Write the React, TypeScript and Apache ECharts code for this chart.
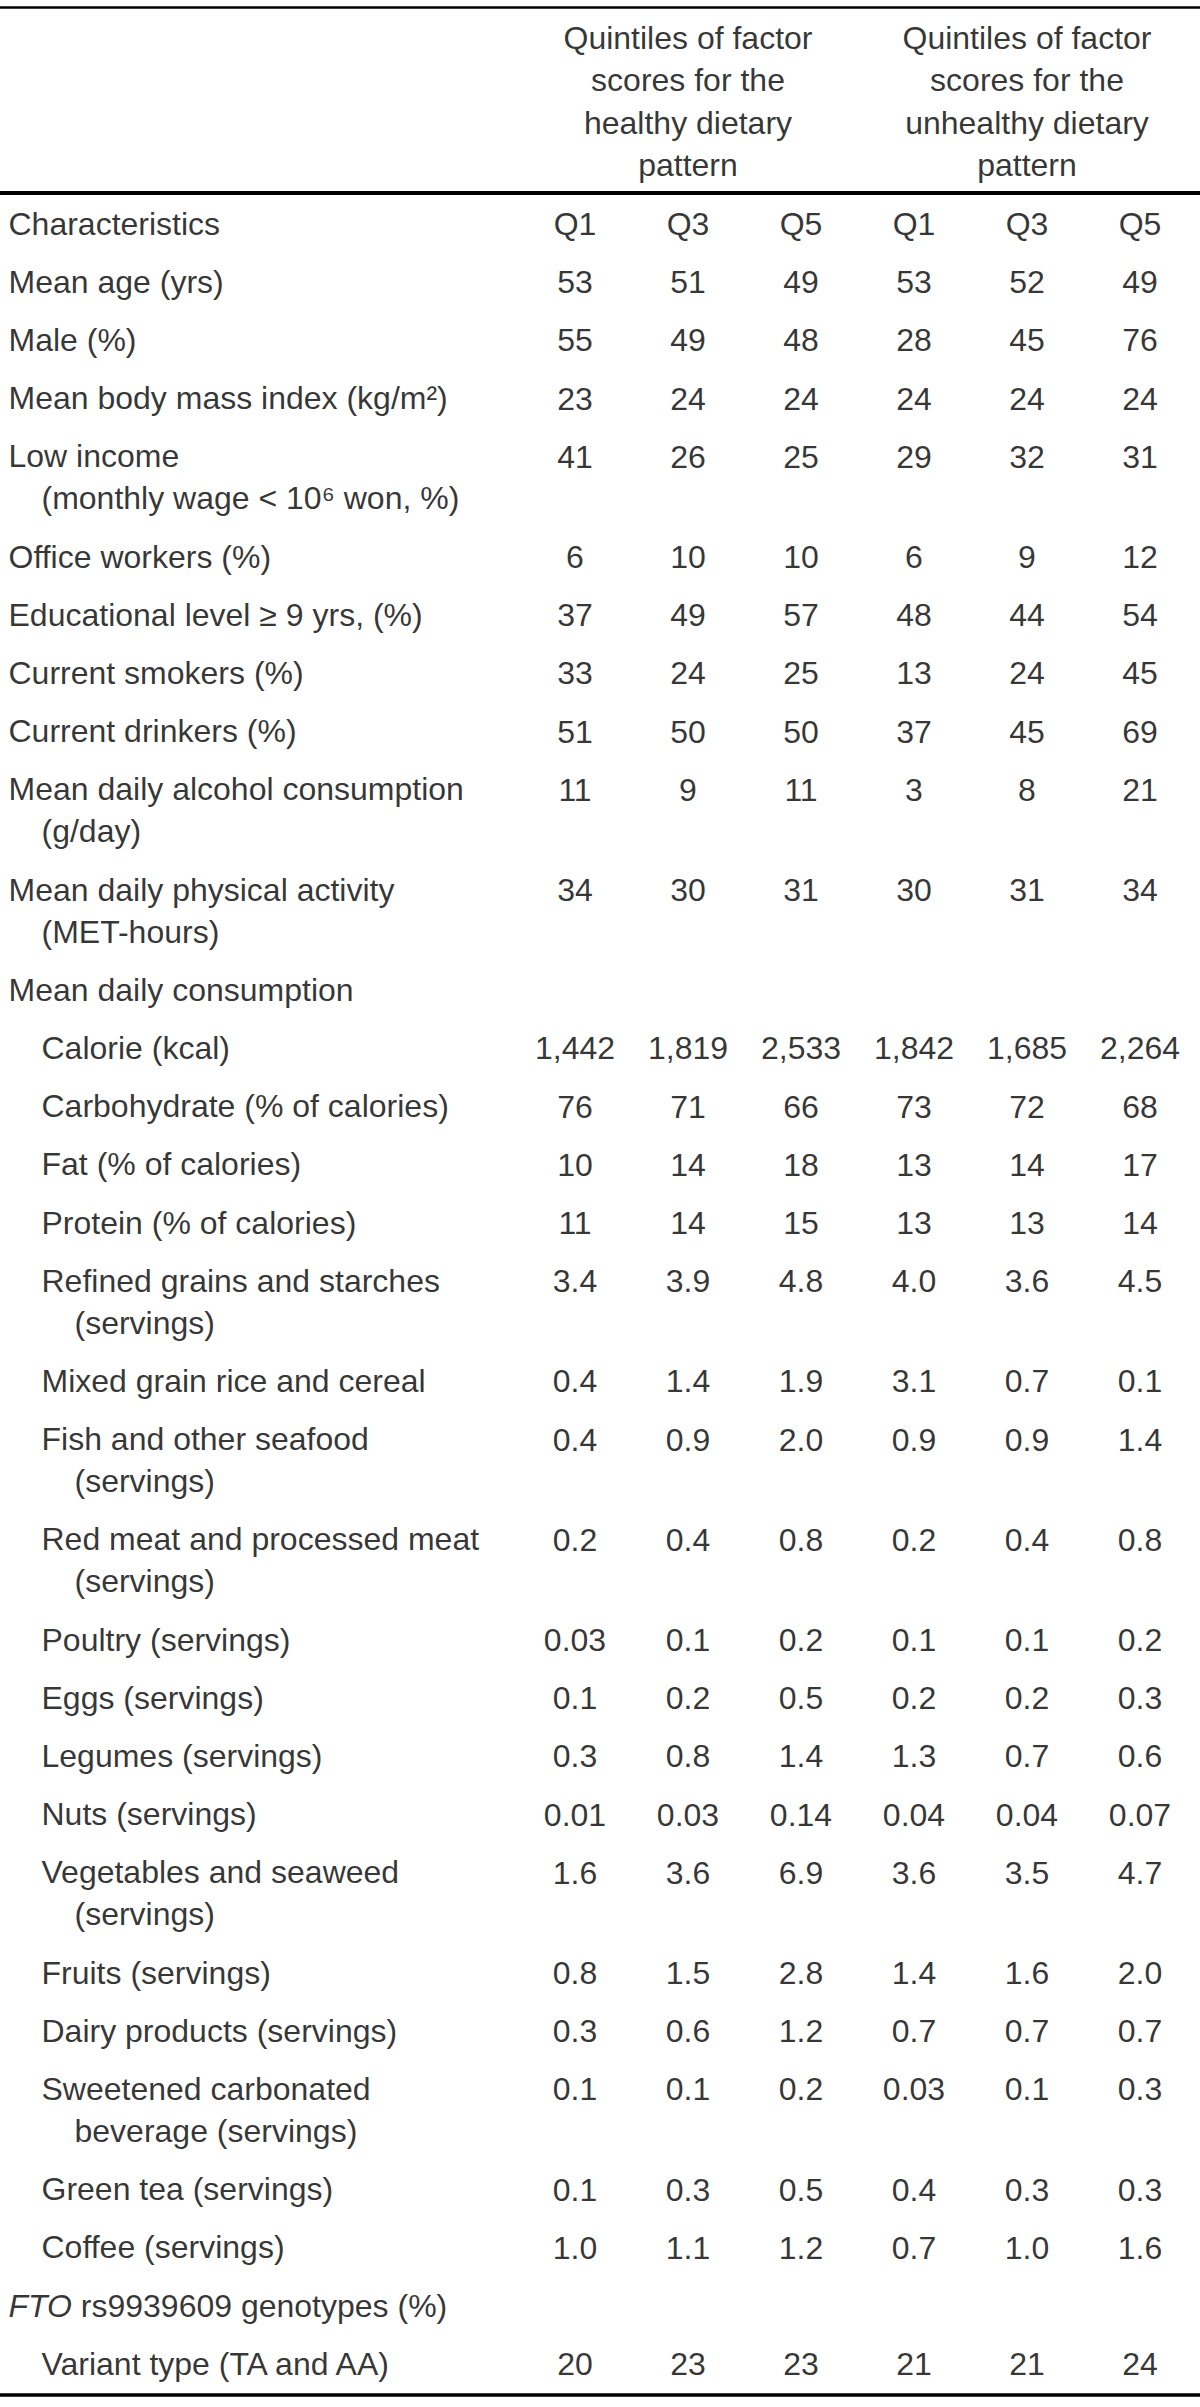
import React, { useEffect, useRef } from "react";
import * as echarts from "echarts";

// ---------- data ----------
const quintiles = ["Q1", "Q3", "Q5", "Q1", "Q3", "Q5"];
const patternHeaders = [
  "Quintiles of factor\nscores for the\nhealthy dietary\npattern",
  "Quintiles of factor\nscores for the\nunhealthy dietary\npattern",
];
const patternHeaderColumn = [1, 4];

const characteristics: string[][] = [
  ["Characteristics"],
  ["Mean age (yrs)"],
  ["Male (%)"],
  ["Mean body mass index (kg/m²)"],
  ["Low income", "(monthly wage < 10⁶ won, %)"],
  ["Office workers (%)"],
  ["Educational level ≥ 9 yrs, (%)"],
  ["Current smokers (%)"],
  ["Current drinkers (%)"],
  ["Mean daily alcohol consumption", "(g/day)"],
  ["Mean daily physical activity", "(MET-hours)"],
  ["Mean daily consumption"],
  ["Calorie (kcal)"],
  ["Carbohydrate (% of calories)"],
  ["Fat (% of calories)"],
  ["Protein (% of calories)"],
  ["Refined grains and starches", "(servings)"],
  ["Mixed grain rice and cereal"],
  ["Fish and other seafood", "(servings)"],
  ["Red meat and processed meat", "(servings)"],
  ["Poultry (servings)"],
  ["Eggs (servings)"],
  ["Legumes (servings)"],
  ["Nuts (servings)"],
  ["Vegetables and seaweed", "(servings)"],
  ["Fruits (servings)"],
  ["Dairy products (servings)"],
  ["Sweetened carbonated", "beverage (servings)"],
  ["Green tea (servings)"],
  ["Coffee (servings)"],
  ["FTO rs9939609 genotypes (%)"],
  ["Variant type (TA and AA)"],
];
// 0 = main item, 1 = sub-item
const itemLevel = [
  0, 0, 0, 0, 0, 0, 0, 0, 0, 0, 0, 0,
  1, 1, 1, 1, 1, 1, 1, 1, 1, 1, 1, 1, 1, 1, 1, 1, 1, 1,
  0, 1,
];

// values for rows 1..31 ("" = no value)
const healthyQ1 = ["53", "55", "23", "41", "6", "37", "33", "51", "11", "34", "", "1,442", "76", "10", "11", "3.4", "0.4", "0.4", "0.2", "0.03", "0.1", "0.3", "0.01", "1.6", "0.8", "0.3", "0.1", "0.1", "1.0", "", "20"];
const healthyQ3 = ["51", "49", "24", "26", "10", "49", "24", "50", "9", "30", "", "1,819", "71", "14", "14", "3.9", "1.4", "0.9", "0.4", "0.1", "0.2", "0.8", "0.03", "3.6", "1.5", "0.6", "0.1", "0.3", "1.1", "", "23"];
const healthyQ5 = ["49", "48", "24", "25", "10", "57", "25", "50", "11", "31", "", "2,533", "66", "18", "15", "4.8", "1.9", "2.0", "0.8", "0.2", "0.5", "1.4", "0.14", "6.9", "2.8", "1.2", "0.2", "0.5", "1.2", "", "23"];
const unhealthyQ1 = ["53", "28", "24", "29", "6", "48", "13", "37", "3", "30", "", "1,842", "73", "13", "13", "4.0", "3.1", "0.9", "0.2", "0.1", "0.2", "1.3", "0.04", "3.6", "1.4", "0.7", "0.03", "0.4", "0.7", "", "21"];
const unhealthyQ3 = ["52", "45", "24", "32", "9", "44", "24", "45", "8", "31", "", "1,685", "72", "14", "13", "3.6", "0.7", "0.9", "0.4", "0.1", "0.2", "0.7", "0.04", "3.5", "1.6", "0.7", "0.1", "0.3", "1.0", "", "21"];
const unhealthyQ5 = ["49", "76", "24", "31", "12", "54", "45", "69", "21", "34", "", "2,264", "68", "17", "14", "4.5", "0.1", "1.4", "0.8", "0.2", "0.3", "0.6", "0.07", "4.7", "2.0", "0.7", "0.3", "0.3", "1.6", "", "24"];

// ---------- layout ----------
const W = 1200;
const H = 2407;
const FIRST_ROW_Y = 224;
const ROW_STEP = 58.2;
const LINE_STEP = 42;
const HEADER_Y = 101.5;
const HEADER_LINE = 42.3;
const FONT = "'Liberation Sans', Arial, Helvetica, sans-serif";
const FS = 32;

function buildOption() {
  const columns = [healthyQ1, healthyQ3, healthyQ5, unhealthyQ1, unhealthyQ3, unhealthyQ5];

  const rowY: number[] = [];
  let y = FIRST_ROW_Y;
  characteristics.forEach((lines) => {
    rowY.push(y);
    y += ROW_STEP + LINE_STEP * (lines.length - 1);
  });

  // label column
  const labelPts: number[][] = [];
  const labelTexts: string[] = [];
  characteristics.forEach((lines, r) => {
    lines.forEach((t, l) => {
      labelPts.push([itemLevel[r] + (l > 0 ? 1 : 0), rowY[r] + l * LINE_STEP]);
      labelTexts.push(t);
    });
  });

  // value cells
  const valuePts: number[][] = [];
  const valueTexts: string[] = [];
  quintiles.forEach((q, c) => {
    valuePts.push([c, rowY[0]]);
    valueTexts.push(q);
  });
  columns.forEach((col, c) => {
    col.forEach((v, i) => {
      if (v === "") return;
      valuePts.push([c, rowY[i + 1]]);
      valueTexts.push(v);
    });
  });

  const headerPts = patternHeaderColumn.map((c) => [c, HEADER_Y]);

  const baseText = { color: "#000", fontFamily: FONT, fontSize: FS };

  return {
    animation: false,
    backgroundColor: "#fff",
    grid: [
      { left: 518.5, right: 3.5, top: 0, bottom: 0 },
      { left: 9, width: 33, top: 0, bottom: 0 },
    ],
    xAxis: [
      { type: "value", gridIndex: 0, min: -0.5, max: 5.5, show: false },
      { type: "value", gridIndex: 1, min: 0, max: 1, show: false },
    ],
    yAxis: [
      { type: "value", gridIndex: 0, min: 0, max: H, inverse: true, show: false },
      { type: "value", gridIndex: 1, min: 0, max: H, inverse: true, show: false },
    ],
    series: [
      {
        type: "scatter",
        xAxisIndex: 0,
        yAxisIndex: 0,
        silent: true,
        clip: false,
        symbolSize: 1,
        itemStyle: { color: "rgba(0,0,0,0)" },
        data: valuePts,
        label: {
          show: true,
          position: "inside",
          align: "center",
          verticalAlign: "middle",
          ...baseText,
          formatter: (p: any) => valueTexts[p.dataIndex],
        },
      },
      {
        type: "scatter",
        xAxisIndex: 0,
        yAxisIndex: 0,
        silent: true,
        clip: false,
        symbolSize: 1,
        itemStyle: { color: "rgba(0,0,0,0)" },
        data: headerPts,
        label: {
          show: true,
          position: "inside",
          align: "center",
          verticalAlign: "middle",
          lineHeight: HEADER_LINE,
          ...baseText,
          formatter: (p: any) => patternHeaders[p.dataIndex],
        },
      },
      {
        type: "scatter",
        xAxisIndex: 1,
        yAxisIndex: 1,
        silent: true,
        clip: false,
        symbolSize: 1,
        itemStyle: { color: "rgba(0,0,0,0)" },
        data: labelPts,
        label: {
          show: true,
          position: [0, 0],
          align: "left",
          verticalAlign: "middle",
          ...baseText,
          rich: {
            it: { ...baseText, fontStyle: "italic" },
          },
          formatter: (p: any) => {
            const t = labelTexts[p.dataIndex];
            return t.startsWith("FTO ") ? "{it|FTO}" + t.slice(3) : t;
          },
        },
      },
    ],
    graphic: [
      { type: "line", silent: true, shape: { x1: 0, y1: 7.5, x2: W, y2: 7.5 }, style: { stroke: "#000", lineWidth: 2.5 } },
      { type: "line", silent: true, shape: { x1: 0, y1: 193, x2: W, y2: 193 }, style: { stroke: "#000", lineWidth: 4 } },
      { type: "line", silent: true, shape: { x1: 0, y1: 2395, x2: W, y2: 2395 }, style: { stroke: "#000", lineWidth: 3.5 } },
    ],
  };
}

export default function App() {
  const ref = useRef<HTMLDivElement>(null);
  useEffect(() => {
    if (!ref.current) return;
    const chart = echarts.init(ref.current, undefined, { renderer: "svg" });
    chart.setOption(buildOption() as any);
    return () => chart.dispose();
  }, []);
  return (
    <div
      ref={ref}
      style={{ position: "absolute", left: 0, top: 0, width: W, height: H, background: "#fff" }}
    />
  );
}
